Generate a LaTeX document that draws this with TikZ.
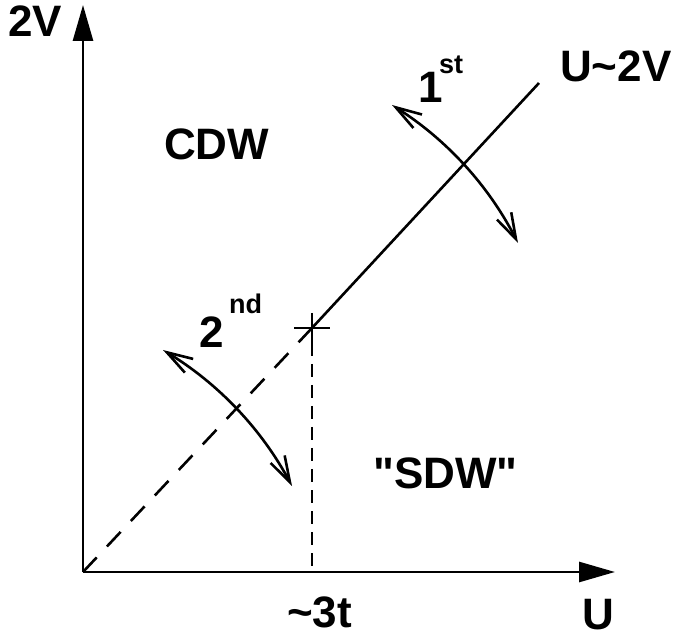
\documentclass[tikz,border=0pt]{standalone}
\usepackage{fontspec}
\setmainfont{Liberation Sans}[Ligatures=TeXOff]
\usetikzlibrary{arrows.meta}
\begin{document}
\begin{tikzpicture}[x=1pt,y=-1pt,
  lab/.style={font=\fontsize{44}{50}\selectfont\bfseries, inner sep=0pt, anchor=base west},
  suplab/.style={font=\fontsize{27}{30}\selectfont\bfseries, inner sep=0pt, anchor=base west},
  axis/.style={line width=2.8pt, -{Triangle[length=36pt,width=20pt]}},
  phase/.style={line width=2.6pt},
  dashdiag/.style={line width=2.6pt, dash pattern=on 20pt off 15pt},
  dashvert/.style={line width=2.6pt, dash pattern=on 13pt off 8pt},
  swing/.style={line width=2.6pt, {Straight Barb[length=26pt,width=16pt,line width=2.6pt]}-{Straight Barb[length=26pt,width=16pt,line width=2.6pt]}}]
\useasboundingbox (0,0) rectangle (673,639);
% key points
\coordinate (O) at (83,572);
\coordinate (ytip) at (83,5);
\coordinate (xtip) at (615,572);
\coordinate (C) at (312,328);
\coordinate (E) at (539,83);
\coordinate (Cl) at (294,328);
\coordinate (Cr) at (330,328);
\coordinate (Ct) at (312,313);
\coordinate (Cb) at (312,343);
\coordinate (Cx) at (312,572);
\coordinate (a1) at (392,105);
\coordinate (b1) at (518,243);
\coordinate (a2) at (163,350);
\coordinate (b2) at (292,486);
% axes
\draw[axis] (O) -- (ytip);
\draw[axis] (O) -- (xtip);
% phase boundary
\draw[dashdiag] (O) -- (C);
\draw[phase] (C) -- (E);
\draw[phase] (Cl) -- (Cr);
\draw[phase] (Ct) -- (Cb);
\draw[dashvert] (Cb) -- (Cx);
% swing arrows
\draw[swing] (a1) .. controls (446.5,139.5) and (488.5,185.5) .. (b1);
\draw[swing] (a2) .. controls (218.4,383.6) and (261.4,429) .. (b2);
% labels
\node[lab] (lV) at (8,37) {2V};
\node[lab] (lU) at (582,629) {U};
\node[lab] (l3t) at (287,627) {\char`\~3t};
\node[lab] (lcdw) at (164,160) {CDW};
\node[lab] (lsdw) at (373,488) {"SDW"};
\node[lab] (lline) at (560,82) {U\char`\~2V};
\node[lab] (l1) at (418,103) {1};
\node[suplab] (lst) at (439,74) {st};
\node[lab] (l2) at (199,348) {2};
\node[suplab] (lnd) at (229,314) {nd};
\end{tikzpicture}
\end{document}
